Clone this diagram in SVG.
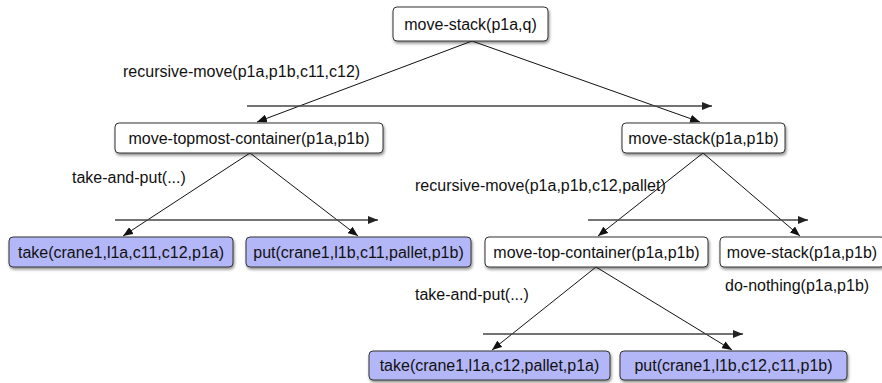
<svg xmlns="http://www.w3.org/2000/svg" width="882" height="383" viewBox="0 0 882 383">
<defs>
<style>
.node rect{stroke:#333;stroke-width:1;filter:url(#sh)}
.plain rect{fill:#fff}
.leaf rect{fill:#b4b7f7}
text{font-family:"Liberation Sans",Arial,sans-serif;font-size:16px;fill:#111}
.node text{text-anchor:middle}
.edge{stroke:#111;stroke-width:1;fill:none;marker-end:url(#ah)}
.ord{stroke:#444;stroke-width:1.3;fill:none;marker-end:url(#ah2)}
</style>
<filter id="sh" x="-10%" y="-20%" width="125%" height="160%">
<feGaussianBlur in="SourceAlpha" stdDeviation="1.5"/>
<feOffset dx="1" dy="2" result="b"/>
<feComponentTransfer><feFuncA type="linear" slope="0.45"/></feComponentTransfer>
<feMerge><feMergeNode/><feMergeNode in="SourceGraphic"/></feMerge>
</filter>
<marker id="ah" viewBox="0 0 10 8" refX="10" refY="4" markerWidth="10" markerHeight="8" markerUnits="userSpaceOnUse" orient="auto">
<path d="M0,0 L10,4 L0,8 z" fill="#111"/>
</marker>
<marker id="ah2" viewBox="0 0 10 8" refX="10" refY="4" markerWidth="11" markerHeight="8" markerUnits="userSpaceOnUse" orient="auto">
<path d="M0,0 L10,4 L0,8 z" fill="#222"/>
</marker>
</defs>
<g id="connectors">
<line class="edge" x1="472" y1="41" x2="257" y2="122"/>
<line class="edge" x1="472" y1="41" x2="700" y2="122"/>
<line class="edge" x1="250" y1="153" x2="123" y2="236"/>
<line class="edge" x1="250" y1="153" x2="358" y2="236"/>
<line class="edge" x1="703" y1="153" x2="598" y2="236"/>
<line class="edge" x1="703" y1="153" x2="800" y2="236"/>
<line class="edge" x1="596" y1="267" x2="492" y2="350"/>
<line class="edge" x1="596" y1="267" x2="732" y2="350"/>
<line class="ord" x1="247" y1="106" x2="712" y2="106"/>
<line class="ord" x1="115" y1="220" x2="378" y2="220"/>
<line class="ord" x1="588" y1="220" x2="808" y2="220"/>
<line class="ord" x1="483" y1="334" x2="743" y2="334"/>
</g>
<g id="labels">
<text x="123" y="77">recursive-move(p1a,p1b,c11,c12)</text>
<text x="72" y="183">take-and-put(...)</text>
<text x="415" y="191">recursive-move(p1a,p1b,c12,pallet)</text>
<text x="725" y="291">do-nothing(p1a,p1b)</text>
<text x="415" y="300">take-and-put(...)</text>
</g>
<g id="n0" class="node plain"><rect x="393" y="7" width="155" height="34" rx="4"/><text x="470.5" y="30">move-stack(p1a,q)</text></g>
<g id="n1" class="node plain"><rect x="115" y="123" width="268" height="30" rx="4"/><text x="249" y="144">move-topmost-container(p1a,p1b)</text></g>
<g id="n2" class="node plain"><rect x="622" y="123" width="163" height="30" rx="4"/><text x="703.5" y="144">move-stack(p1a,p1b)</text></g>
<g id="n3" class="node leaf"><rect x="9" y="237" width="224" height="30" rx="4"/><text x="121" y="258">take(crane1,l1a,c11,c12,p1a)</text></g>
<g id="n4" class="node leaf"><rect x="246" y="237" width="225" height="30" rx="4"/><text x="358.5" y="258">put(crane1,l1b,c11,pallet,p1b)</text></g>
<g id="n5" class="node plain"><rect x="485" y="237" width="223" height="30" rx="4"/><text x="596.5" y="258">move-top-container(p1a,p1b)</text></g>
<g id="n6" class="node plain"><rect x="720" y="237" width="165" height="30" rx="4"/><text x="802" y="258">move-stack(p1a,p1b)</text></g>
<g id="n7" class="node leaf"><rect x="369" y="351" width="241" height="29" rx="4"/><text x="489.5" y="371">take(crane1,l1a,c12,pallet,p1a)</text></g>
<g id="n8" class="node leaf"><rect x="620" y="351" width="227" height="29" rx="4"/><text x="733.5" y="371">put(crane1,l1b,c12,c11,p1b)</text></g>
</svg>
